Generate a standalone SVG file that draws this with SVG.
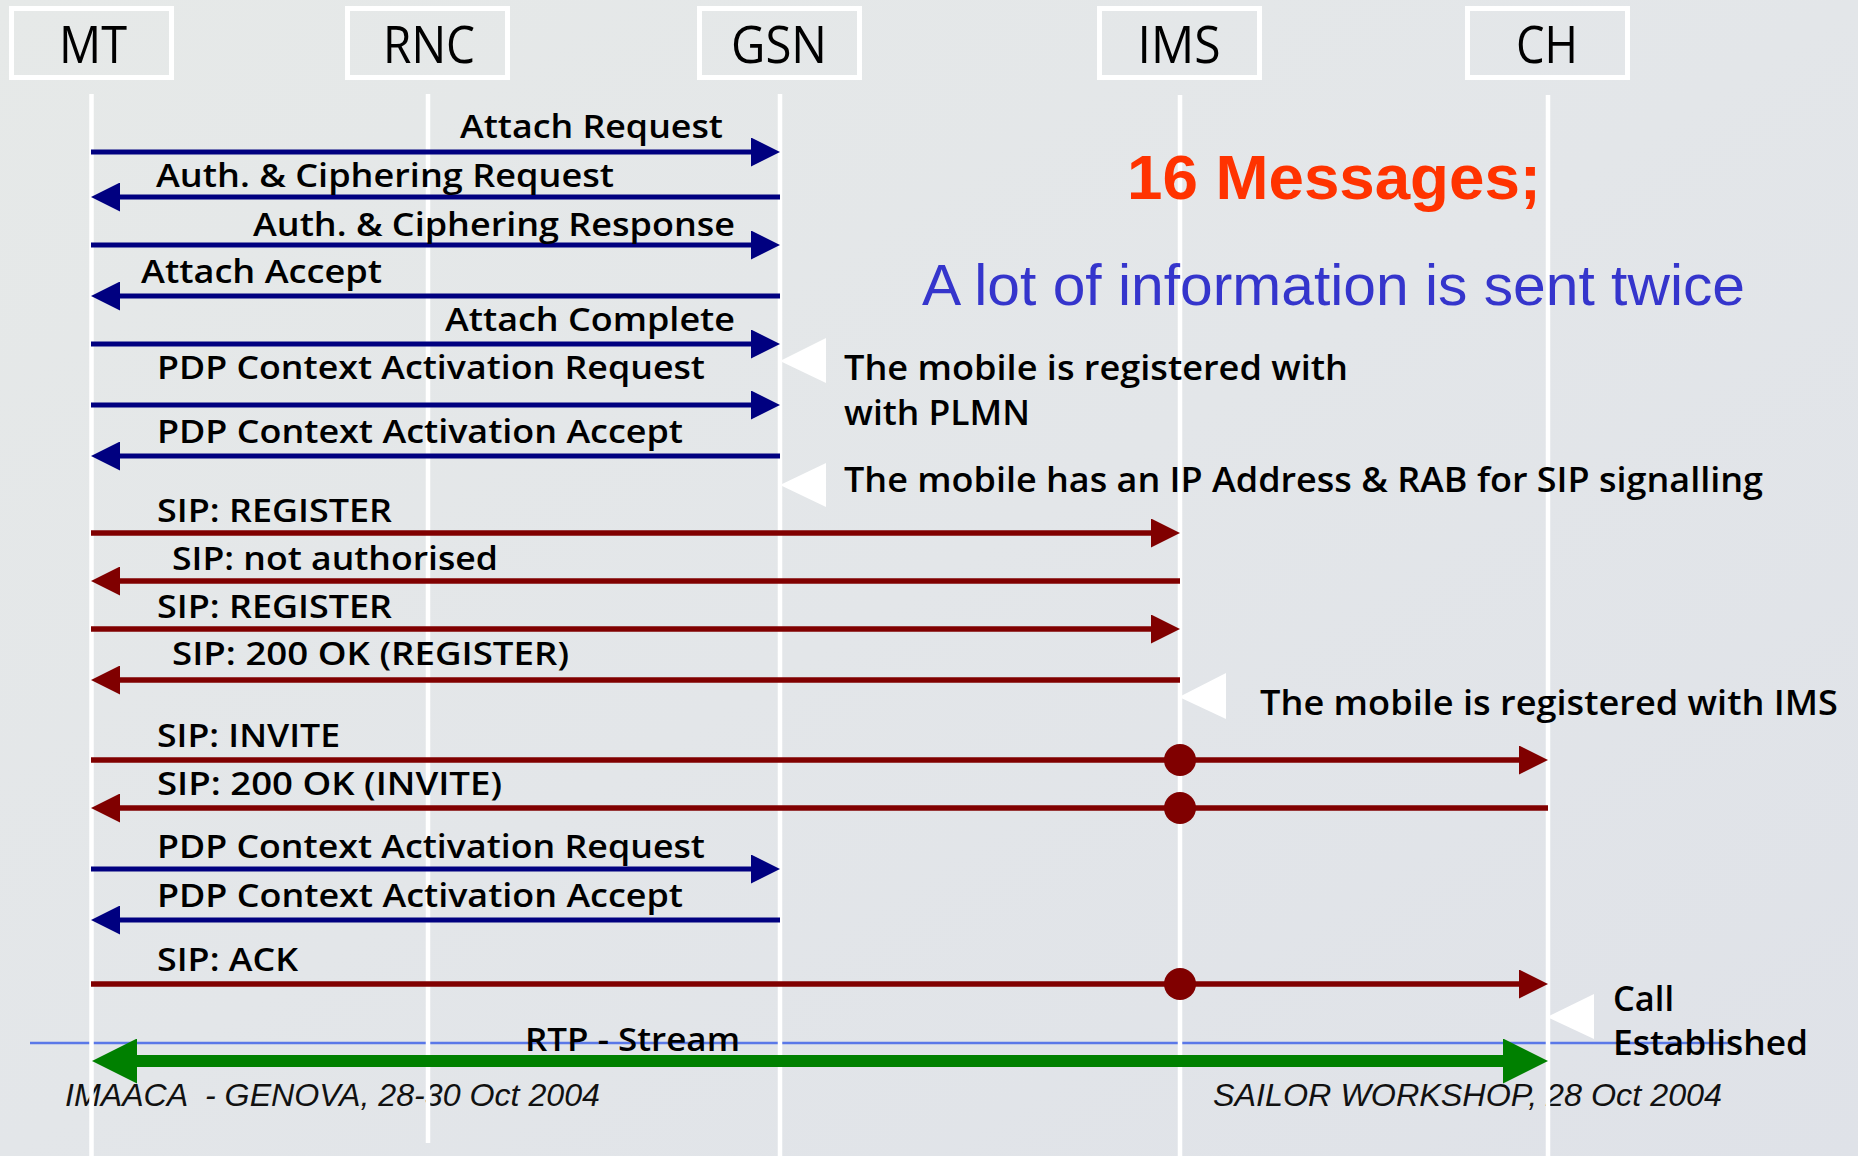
<svg xmlns="http://www.w3.org/2000/svg" width="1858" height="1156" viewBox="0 0 1858 1156">
  <defs>
    <linearGradient id="bg" x1="0" y1="0" x2="1" y2="1">
      <stop offset="0" stop-color="#e6e9e8"/>
      <stop offset="0.5" stop-color="#e3e6e9"/>
      <stop offset="1" stop-color="#dfe2e8"/>
    </linearGradient>
    <marker id="ah-navy" viewBox="0 0 29 29" refX="17" refY="14.5" markerWidth="29" markerHeight="29" markerUnits="userSpaceOnUse" orient="auto">
      <path d="M0,0 L29,14.5 L0,29 z" fill="#000080"/>
    </marker>
    <marker id="ah-maroon" viewBox="0 0 29 29" refX="17" refY="14.5" markerWidth="29" markerHeight="29" markerUnits="userSpaceOnUse" orient="auto">
      <path d="M0,0 L29,14.5 L0,29 z" fill="#800000"/>
    </marker>
    <marker id="ah-green" viewBox="0 0 45 45" refX="25" refY="22.5" markerWidth="45" markerHeight="45" markerUnits="userSpaceOnUse" orient="auto-start-reverse">
      <path d="M0,0 L45,22.5 L0,45 z" fill="#008000"/>
    </marker>
    <style>
      .box { fill: none; stroke: #ffffff; stroke-width: 5; }
      .node-label { font-family: "Open Sans", "Liberation Sans", sans-serif; font-size: 52px; fill: #000; text-anchor: middle; }
      .life { stroke: #ffffff; stroke-width: 4.5; }
      .navy { stroke: #000080; stroke-width: 5; fill: none; marker-end: url(#ah-navy); }
      .navy-plain { stroke: #000080; stroke-width: 5; fill: none; }
      .maroon { stroke: #800000; stroke-width: 5.5; fill: none; marker-end: url(#ah-maroon); }
      .dot { fill: #800000; }
      .rtp { stroke: #008000; stroke-width: 12; fill: none; marker-start: url(#ah-green); marker-end: url(#ah-green); }
      .msg { font-family: "Open Sans", "Liberation Sans", sans-serif; font-weight: 600; font-size: 32px; fill: #000; }
      .note { font-family: "Open Sans", "Liberation Sans", sans-serif; font-weight: 600; font-size: 35px; fill: #000; }
      .pointer { fill: #ffffff; }
      .foot { font-family: "Liberation Sans", Arial, sans-serif; font-style: italic; font-size: 32px; fill: #111; }
    </style>
  </defs>

  <!-- background -->
  <rect x="0" y="0" width="1858" height="1156" fill="url(#bg)"/>

  <!-- footer -->
  <g id="footer">
    <text class="foot" x="65" y="1106" textLength="535" lengthAdjust="spacingAndGlyphs" xml:space="preserve">IMAACA  - GENOVA, 28-30 Oct 2004</text>
    <text class="foot" x="1213" y="1106" textLength="509" lengthAdjust="spacingAndGlyphs">SAILOR WORKSHOP, 28 Oct 2004</text>
  </g>

  <!-- thin separator line -->
  <line x1="30" y1="1043" x2="1730" y2="1043" stroke="#5a78e8" stroke-width="2.5"/>

  <!-- nodes -->
  <g id="node-MT">
    <rect class="box" x="11.5" y="8.5" width="160" height="69"/>
    <text class="node-label" x="93" y="63" textLength="68" lengthAdjust="spacingAndGlyphs">MT</text>
    <line class="life" x1="91.5" y1="94" x2="91.5" y2="1156"/>
  </g>
  <g id="node-RNC">
    <rect class="box" x="347.5" y="8.5" width="160" height="69"/>
    <text class="node-label" x="429" y="63" textLength="92" lengthAdjust="spacingAndGlyphs">RNC</text>
    <line class="life" x1="428" y1="94" x2="428" y2="1143"/>
  </g>
  <g id="node-GSN">
    <rect class="box" x="699.5" y="8.5" width="160" height="69"/>
    <text class="node-label" x="779" y="63" textLength="96" lengthAdjust="spacingAndGlyphs">GSN</text>
    <line class="life" x1="780" y1="94" x2="780" y2="1156"/>
  </g>
  <g id="node-IMS">
    <rect class="box" x="1099.5" y="8.5" width="160" height="69"/>
    <text class="node-label" x="1179" y="63" textLength="83" lengthAdjust="spacingAndGlyphs">IMS</text>
    <line class="life" x1="1180" y1="95" x2="1180" y2="1156"/>
  </g>
  <g id="node-CH">
    <rect class="box" x="1467.5" y="8.5" width="160" height="69"/>
    <text class="node-label" x="1547" y="63" textLength="62" lengthAdjust="spacingAndGlyphs">CH</text>
    <line class="life" x1="1548" y1="95" x2="1548" y2="1156"/>
  </g>

  <!-- headline texts -->
  <g id="headline">
    <text x="1127" y="199" font-family="'Liberation Sans', Arial, sans-serif" font-weight="700" font-size="63" fill="#ff3300" textLength="414" lengthAdjust="spacingAndGlyphs">16 Messages;</text>
    <text x="922" y="305" font-family="'Liberation Sans', Arial, sans-serif" font-size="58" fill="#3535cc" textLength="823" lengthAdjust="spacingAndGlyphs">A lot of information is sent twice</text>
  </g>

  <!-- state notes -->
  <g id="note-plmn">
    <polygon class="pointer" points="780,361 826,338 826,383"/>
    <text class="note" x="844" y="380" textLength="504" lengthAdjust="spacingAndGlyphs">The mobile is registered with</text>
    <text class="note" x="844" y="425" textLength="186" lengthAdjust="spacingAndGlyphs">with PLMN</text>
  </g>
  <g id="note-ip">
    <polygon class="pointer" points="780,485 826,463 826,507"/>
    <text class="note" x="844" y="492" textLength="919" lengthAdjust="spacingAndGlyphs">The mobile has an IP Address &amp; RAB for SIP signalling</text>
  </g>
  <g id="note-ims">
    <polygon class="pointer" points="1179,697 1226,673 1226,719"/>
    <text class="note" x="1260" y="715" textLength="578" lengthAdjust="spacingAndGlyphs">The mobile is registered with IMS</text>
  </g>
  <g id="note-call">
    <polygon class="pointer" points="1547,1017 1594,994 1594,1039"/>
    <text class="note" x="1613" y="1011" textLength="61" lengthAdjust="spacingAndGlyphs">Call</text>
    <text class="note" x="1613" y="1055" textLength="195" lengthAdjust="spacingAndGlyphs">Established</text>
  </g>

  <!-- connectors -->
  <g id="connectors">
    <line class="navy" x1="91" y1="152" x2="768" y2="152"/>
    <line class="navy" x1="780" y1="197" x2="103" y2="197"/>
    <line class="navy" x1="91" y1="245" x2="768" y2="245"/>
    <line class="navy" x1="780" y1="296" x2="103" y2="296"/>
    <line class="navy" x1="91" y1="344" x2="768" y2="344"/>
    <line class="navy" x1="91" y1="405" x2="768" y2="405"/>
    <line class="navy" x1="780" y1="456" x2="103" y2="456"/>

    <line class="maroon" x1="91" y1="533" x2="1168" y2="533"/>
    <line class="maroon" x1="1180" y1="581" x2="103" y2="581"/>
    <line class="maroon" x1="91" y1="629" x2="1168" y2="629"/>
    <line class="maroon" x1="1180" y1="680" x2="103" y2="680"/>

    <line class="maroon" x1="91" y1="760" x2="1536" y2="760"/>
    <circle class="dot" cx="1180" cy="760" r="16"/>
    <line class="maroon" x1="1548" y1="808" x2="103" y2="808"/>
    <circle class="dot" cx="1180" cy="808" r="16"/>

    <line class="navy" x1="91" y1="869" x2="768" y2="869"/>
    <line class="navy" x1="780" y1="920" x2="103" y2="920"/>

    <line class="maroon" x1="91" y1="984" x2="1536" y2="984"/>
    <circle class="dot" cx="1180" cy="984" r="16"/>

    <line class="rtp" x1="112" y1="1061" x2="1528" y2="1061"/>
  </g>

  <!-- message labels -->
  <g id="labels">
    <text class="msg" x="460" y="138" textLength="263" lengthAdjust="spacingAndGlyphs">Attach Request</text>
    <text class="msg" x="156" y="187" textLength="458" lengthAdjust="spacingAndGlyphs">Auth. &amp; Ciphering Request</text>
    <text class="msg" x="253" y="236" textLength="482" lengthAdjust="spacingAndGlyphs">Auth. &amp; Ciphering Response</text>
    <text class="msg" x="141" y="283" textLength="241" lengthAdjust="spacingAndGlyphs">Attach Accept</text>
    <text class="msg" x="445" y="331" textLength="290" lengthAdjust="spacingAndGlyphs">Attach Complete</text>
    <text class="msg" x="157" y="379" textLength="548" lengthAdjust="spacingAndGlyphs">PDP Context Activation Request</text>
    <text class="msg" x="157" y="443" textLength="526" lengthAdjust="spacingAndGlyphs">PDP Context Activation Accept</text>
    <text class="msg" x="157" y="522" textLength="235" lengthAdjust="spacingAndGlyphs">SIP: REGISTER</text>
    <text class="msg" x="172" y="570" textLength="326" lengthAdjust="spacingAndGlyphs">SIP: not authorised</text>
    <text class="msg" x="157" y="618" textLength="235" lengthAdjust="spacingAndGlyphs">SIP: REGISTER</text>
    <text class="msg" x="172" y="665" textLength="397" lengthAdjust="spacingAndGlyphs">SIP: 200 OK (REGISTER)</text>
    <text class="msg" x="157" y="747" textLength="183" lengthAdjust="spacingAndGlyphs">SIP: INVITE</text>
    <text class="msg" x="157" y="795" textLength="345" lengthAdjust="spacingAndGlyphs">SIP: 200 OK (INVITE)</text>
    <text class="msg" x="157" y="858" textLength="548" lengthAdjust="spacingAndGlyphs">PDP Context Activation Request</text>
    <text class="msg" x="157" y="907" textLength="526" lengthAdjust="spacingAndGlyphs">PDP Context Activation Accept</text>
    <text class="msg" x="157" y="971" textLength="141" lengthAdjust="spacingAndGlyphs">SIP: ACK</text>
    <text class="msg" x="525" y="1051" textLength="215" lengthAdjust="spacingAndGlyphs">RTP - Stream</text>
  </g>
</svg>
